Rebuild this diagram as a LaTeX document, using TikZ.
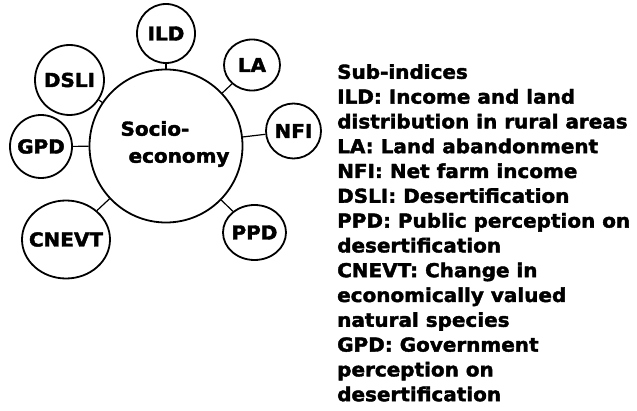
\documentclass[tikz,border=0pt]{standalone}
\usepackage{fontspec}
\newfontfamily\heavyfont[FakeStretch=1.04, FakeBold=2]{DejaVu Sans}
\usetikzlibrary{shapes.geometric}
\tikzset{
	hub/.style={draw, circle, line width=1.8pt, minimum size=153pt, inner sep=0pt},
	sub/.style={draw, ellipse, line width=1.8pt, inner sep=-8pt, font=\heavyfont\bfseries\fontsize{19.2}{24.7}\selectfont},
	% text of the legend on the right
	legend/.style={anchor=north west, align=left, inner sep=0pt, font=\heavyfont\bfseries\fontsize{19.2}{24.8}\selectfont},
	hubtext/.style={align=left, inner sep=0pt, font=\heavyfont\bfseries\fontsize{19.2}{27}\selectfont},
}

\begin{document}
\begin{tikzpicture}[x=1pt, y=1pt]
	\useasboundingbox (0,0) rectangle (637,410);
	
	\node (soc) [hub] at (166,264) {};
	\node (soctext) [hubtext] at (175,266) {Socio-\\\hspace*{8pt}economy};
	
	\node (ild) [sub, minimum width=58pt, minimum height=59pt] at (166,376.5) {ILD};
	\node (la) [sub, minimum width=56pt, minimum height=51pt] at (252,345) {LA};
	\node (nfi) [sub, minimum width=55pt, minimum height=55pt] at (293.5,279) {NFI};
	\node (ppd) [sub, minimum width=63pt, minimum height=55pt] at (254.5,177.5) {PPD};
	\node (cnevt) [sub, minimum width=88pt, minimum height=78pt] at (66,170.5) {CNEVT};
	\node (gpd) [sub, minimum width=62pt, minimum height=63pt] at (41,263.5) {GPD};
	\node (dsli) [sub, minimum width=69pt, minimum height=70pt] at (69.5,330) {DSLI};
	
	\node (legend) [legend] at (337,346) {Sub-indices\\
		ILD: Income and land\\
		distribution in rural areas\\
		LA: Land abandonment\\
		NFI: Net farm income\\
		DSLI: Desertification\\
		PPD: Public perception on\\
		desertification\\
		CNEVT: Change in\\
		economically valued\\
		natural species\\
		GPD: Government\\
		perception on\\
		desertification};
	
	\begin{scope}[line width=1.2pt, black]
		\draw (soc) -- (ild);
		\draw (soc) -- (la);
		\draw (soc) -- (nfi);
		\draw (soc) -- (ppd);
		\draw (soc) -- (cnevt);
		\draw (soc) -- (gpd);
		\draw (soc) -- (dsli);
	\end{scope}
	
\end{tikzpicture}
\end{document}
